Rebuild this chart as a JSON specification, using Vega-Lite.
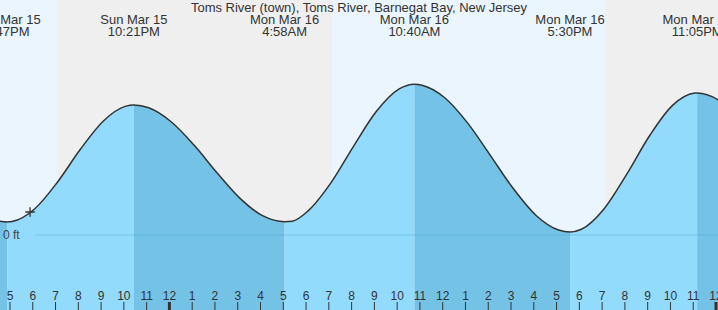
{
  "$schema": "https://vega.github.io/schema/vega-lite/v6.json",
  "width": 718,
  "height": 310,
  "padding": 0,
  "autosize": {"type": "none"},
  "config": {
    "view": {"stroke": null},
    "axis": {"disable": true},
    "legend": {"disable": true},
    "font": "Liberation Sans"
  },
  "datasets": {
    "periods": [
      {"start": 16.561, "end": 19.06, "period": "day"},
      {"start": 19.06, "end": 31.14, "period": "night"},
      {"start": 31.14, "end": 43.125, "period": "day"},
      {"start": 43.125, "end": 48.088, "period": "night"}
    ],
    "tide": [
      {"t": 16.561, "h": 0.069, "seg": 0, "phase": "falling", "dup": 0},
      {"t": 16.873, "h": 0.065, "seg": 0, "phase": "falling", "dup": 0},
      {"t": 16.873, "h": 0.065, "seg": 1, "phase": "rising", "dup": 1},
      {"t": 17.09, "h": 0.0672, "seg": 1, "phase": "rising", "dup": 0},
      {"t": 18.09, "h": 0.1313, "seg": 1, "phase": "rising", "dup": 0},
      {"t": 19.09, "h": 0.2654, "seg": 1, "phase": "rising", "dup": 0},
      {"t": 20.09, "h": 0.4284, "seg": 1, "phase": "rising", "dup": 0},
      {"t": 21.09, "h": 0.5691, "seg": 1, "phase": "rising", "dup": 0},
      {"t": 22.09, "h": 0.6443, "seg": 1, "phase": "rising", "dup": 0},
      {"t": 22.44, "h": 0.65, "seg": 1, "phase": "rising", "dup": 0},
      {"t": 22.44, "h": 0.65, "seg": 2, "phase": "falling", "dup": 1},
      {"t": 23.09, "h": 0.6362, "seg": 2, "phase": "falling", "dup": 0},
      {"t": 24.09, "h": 0.565, "seg": 2, "phase": "falling", "dup": 0},
      {"t": 25.09, "h": 0.4482, "seg": 2, "phase": "falling", "dup": 0},
      {"t": 26.09, "h": 0.3111, "seg": 2, "phase": "falling", "dup": 0},
      {"t": 27.09, "h": 0.1846, "seg": 2, "phase": "falling", "dup": 0},
      {"t": 28.09, "h": 0.0965, "seg": 2, "phase": "falling", "dup": 0},
      {"t": 29.057, "h": 0.0665, "seg": 2, "phase": "falling", "dup": 0},
      {"t": 29.057, "h": 0.0665, "seg": 3, "phase": "rising", "dup": 1},
      {"t": 29.39, "h": 0.0688, "seg": 3, "phase": "rising", "dup": 0},
      {"t": 30.09, "h": 0.1207, "seg": 3, "phase": "rising", "dup": 0},
      {"t": 31.09, "h": 0.2604, "seg": 3, "phase": "rising", "dup": 0},
      {"t": 32.09, "h": 0.4446, "seg": 3, "phase": "rising", "dup": 0},
      {"t": 33.09, "h": 0.6184, "seg": 3, "phase": "rising", "dup": 0},
      {"t": 34.09, "h": 0.7305, "seg": 3, "phase": "rising", "dup": 0},
      {"t": 34.757, "h": 0.7535, "seg": 3, "phase": "rising", "dup": 0},
      {"t": 34.757, "h": 0.7535, "seg": 4, "phase": "falling", "dup": 1},
      {"t": 35.09, "h": 0.7492, "seg": 4, "phase": "falling", "dup": 0},
      {"t": 36.09, "h": 0.6863, "seg": 4, "phase": "falling", "dup": 0},
      {"t": 37.09, "h": 0.5606, "seg": 4, "phase": "falling", "dup": 0},
      {"t": 38.09, "h": 0.3984, "seg": 4, "phase": "falling", "dup": 0},
      {"t": 39.09, "h": 0.2334, "seg": 4, "phase": "falling", "dup": 0},
      {"t": 40.09, "h": 0.099, "seg": 4, "phase": "falling", "dup": 0},
      {"t": 41.09, "h": 0.0248, "seg": 4, "phase": "falling", "dup": 0},
      {"t": 41.59, "h": 0.015, "seg": 4, "phase": "falling", "dup": 0},
      {"t": 41.59, "h": 0.015, "seg": 5, "phase": "rising", "dup": 1},
      {"t": 42.09, "h": 0.0287, "seg": 5, "phase": "rising", "dup": 0},
      {"t": 43.09, "h": 0.1316, "seg": 5, "phase": "rising", "dup": 0},
      {"t": 44.09, "h": 0.3057, "seg": 5, "phase": "rising", "dup": 0},
      {"t": 45.09, "h": 0.4973, "seg": 5, "phase": "rising", "dup": 0},
      {"t": 46.09, "h": 0.6479, "seg": 5, "phase": "rising", "dup": 0},
      {"t": 47.09, "h": 0.7096, "seg": 5, "phase": "rising", "dup": 0},
      {"t": 47.173, "h": 0.71, "seg": 5, "phase": "rising", "dup": 0},
      {"t": 47.173, "h": 0.71, "seg": 6, "phase": "falling", "dup": 1},
      {"t": 48.09, "h": 0.6761, "seg": 6, "phase": "falling", "dup": 0},
      {"t": 48.19, "h": 0.669, "seg": 6, "phase": "falling", "dup": 0}
    ],
    "extremes": [
      {"t": 16.873, "label": "Sun Mar 15\n4:47PM"},
      {"t": 22.44, "label": "Sun Mar 15\n10:21PM"},
      {"t": 29.057, "label": "Mon Mar 16\n4:58AM"},
      {"t": 34.757, "label": "Mon Mar 16\n10:40AM"},
      {"t": 41.59, "label": "Mon Mar 16\n5:30PM"},
      {"t": 47.173, "label": "Mon Mar 16\n11:05PM"}
    ],
    "hours": [
      {"t": 17, "lab": "5", "midnight": 0}, {"t": 18, "lab": "6", "midnight": 0},
      {"t": 19, "lab": "7", "midnight": 0}, {"t": 20, "lab": "8", "midnight": 0},
      {"t": 21, "lab": "9", "midnight": 0}, {"t": 22, "lab": "10", "midnight": 0},
      {"t": 23, "lab": "11", "midnight": 0}, {"t": 24, "lab": "12", "midnight": 1},
      {"t": 25, "lab": "1", "midnight": 0}, {"t": 26, "lab": "2", "midnight": 0},
      {"t": 27, "lab": "3", "midnight": 0}, {"t": 28, "lab": "4", "midnight": 0},
      {"t": 29, "lab": "5", "midnight": 0}, {"t": 30, "lab": "6", "midnight": 0},
      {"t": 31, "lab": "7", "midnight": 0}, {"t": 32, "lab": "8", "midnight": 0},
      {"t": 33, "lab": "9", "midnight": 0}, {"t": 34, "lab": "10", "midnight": 0},
      {"t": 35, "lab": "11", "midnight": 0}, {"t": 36, "lab": "12", "midnight": 0},
      {"t": 37, "lab": "1", "midnight": 0}, {"t": 38, "lab": "2", "midnight": 0},
      {"t": 39, "lab": "3", "midnight": 0}, {"t": 40, "lab": "4", "midnight": 0},
      {"t": 41, "lab": "5", "midnight": 0}, {"t": 42, "lab": "6", "midnight": 0},
      {"t": 43, "lab": "7", "midnight": 0}, {"t": 44, "lab": "8", "midnight": 0},
      {"t": 45, "lab": "9", "midnight": 0}, {"t": 46, "lab": "10", "midnight": 0},
      {"t": 47, "lab": "11", "midnight": 0}, {"t": 48, "lab": "12", "midnight": 1}
    ],
    "now": [{"t": 17.88, "h": 0.115}],
    "titles": [{"t": 32.325, "text": "Toms River (town), Toms River, Barnegat Bay, New Jersey"}]
  },
  "layer": [
    {
      "data": {"name": "periods"},
      "mark": {"type": "rect"},
      "encoding": {
        "x": {"field": "start", "type": "quantitative", "scale": {"domain": [16.561, 48.088], "nice": false, "zero": false}, "axis": null},
        "x2": {"field": "end"},
        "fill": {"field": "period", "type": "nominal", "legend": null,
          "scale": {"domain": ["day", "night", "rising", "falling"], "range": ["#eaf5fd", "#efefef", "#93dbfc", "#74c2e6"]}}
      }
    },
    {
      "data": {"name": "tide"},
      "mark": {"type": "area", "interpolate": "monotone", "clip": true, "orient": "vertical"},
      "encoding": {
        "x": {"field": "t", "type": "quantitative", "scale": {"domain": [16.561, 48.088], "nice": false, "zero": false}, "axis": null},
        "y": {"field": "h", "type": "quantitative", "stack": null, "scale": {"domain": [-0.375, 1.175], "nice": false, "zero": false}, "axis": null},
        "y2": {"datum": -0.375},
        "detail": {"field": "seg", "type": "nominal"},
        "fill": {"field": "phase", "type": "nominal", "legend": null,
          "scale": {"domain": ["day", "night", "rising", "falling"], "range": ["#eaf5fd", "#efefef", "#93dbfc", "#74c2e6"]}}
      }
    },
    {
      "data": {"name": "tide"},
      "transform": [{"filter": "datum.t > 17.45"}],
      "mark": {"type": "rule", "color": "#3a9fd0", "strokeOpacity": 0.35, "strokeWidth": 1, "clip": true},
      "encoding": {
        "x": {"aggregate": "min", "field": "t", "type": "quantitative"},
        "x2": {"aggregate": "max", "field": "t"},
        "y": {"datum": 0}
      }
    },
    {
      "data": {"name": "tide"},
      "transform": [{"filter": "datum.dup == 0"}],
      "mark": {"type": "line", "interpolate": "monotone", "color": "#333333", "strokeWidth": 1.5, "clip": true},
      "encoding": {
        "x": {"field": "t", "type": "quantitative"},
        "y": {"field": "h", "type": "quantitative"},
        "order": {"field": "t", "type": "quantitative"}
      }
    },
    {
      "data": {"name": "now"},
      "mark": {"type": "point", "shape": "M-1,0H1M0,-1V1", "size": 90, "filled": false, "stroke": "#333333", "strokeWidth": 1.3, "opacity": 1},
      "encoding": {
        "x": {"field": "t", "type": "quantitative"},
        "y": {"field": "h", "type": "quantitative"}
      }
    },
    {
      "data": {"name": "tide"},
      "transform": [{"filter": "datum.t < 16.6"}],
      "mark": {"type": "text", "text": "0 ft", "align": "left", "baseline": "middle", "dx": 3, "fontSize": 12, "color": "#444444"},
      "encoding": {
        "x": {"field": "t", "type": "quantitative"},
        "y": {"datum": 0}
      }
    },
    {
      "data": {"name": "hours"},
      "mark": {"type": "rule", "color": "#333333"},
      "encoding": {
        "x": {"field": "t", "type": "quantitative"},
        "y": {"datum": -0.335},
        "y2": {"datum": -0.375},
        "strokeWidth": {"condition": {"test": "datum.midnight == 1", "value": 3}, "value": 1}
      }
    },
    {
      "data": {"name": "hours"},
      "mark": {"type": "text", "align": "center", "baseline": "alphabetic", "fontSize": 12, "color": "#333333"},
      "encoding": {
        "x": {"field": "t", "type": "quantitative"},
        "y": {"datum": -0.325},
        "text": {"field": "lab", "type": "nominal"}
      }
    },
    {
      "data": {"name": "extremes"},
      "mark": {"type": "text", "align": "center", "baseline": "alphabetic", "fontSize": 13, "lineBreak": "\n", "lineHeight": 12, "color": "#333333"},
      "encoding": {
        "x": {"field": "t", "type": "quantitative"},
        "y": {"datum": 1.055},
        "text": {"field": "label", "type": "nominal"}
      }
    },
    {
      "data": {"name": "titles"},
      "mark": {"type": "text", "align": "center", "baseline": "alphabetic", "fontSize": 13, "color": "#333333"},
      "encoding": {
        "x": {"field": "t", "type": "quantitative"},
        "y": {"datum": 1.115},
        "text": {"field": "text", "type": "nominal"}
      }
    }
  ]
}
